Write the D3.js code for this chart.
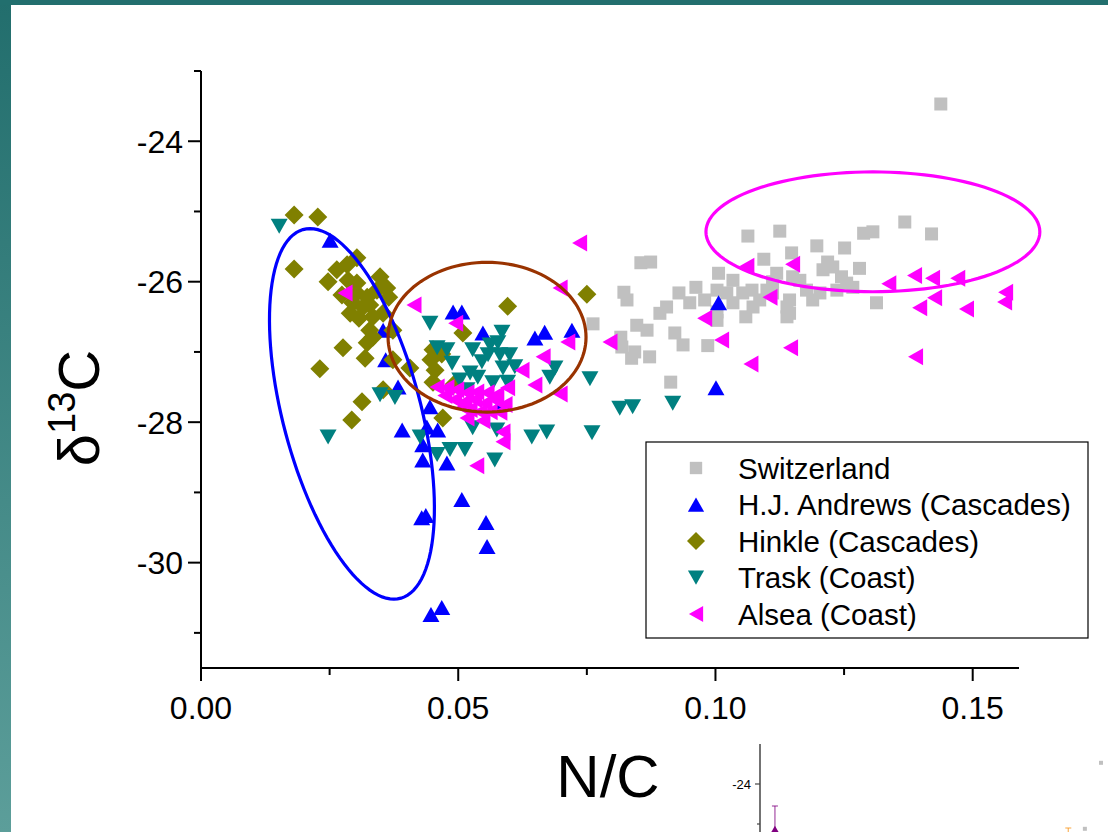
<!DOCTYPE html>
<html>
<head>
<meta charset="utf-8">
<script src="https://cdn.jsdelivr.net/npm/d3@7"></script>
<style>
  body { margin: 0; background: #fff; }
  text { font-family: "Liberation Sans", Arial, sans-serif; fill: #000; }
</style>
</head>
<body>
<svg id="chart" width="1108" height="832"></svg>
<script>
// ---- data (N/C, d13C) ----
const switzerland = [
  [0.1438,-23.47],[0.1063,-25.35],[0.1125,-25.28],[0.1197,-25.49],[0.1251,-25.52],[0.1288,-25.31],
  [0.1306,-25.29],[0.1368,-25.15],[0.1420,-25.32],[0.0855,-25.73],[0.0874,-25.72],[0.1094,-25.68],
  [0.1148,-25.59],[0.1218,-25.72],[0.1006,-25.88],[0.0822,-26.15],[0.0828,-26.26],[0.0962,-26.08],
  [0.0929,-26.16],[0.0950,-26.30],[0.0905,-26.36],[0.0892,-26.45],[0.0847,-26.62],[0.0867,-26.69],
  [0.0762,-26.60],[0.0816,-26.79],[0.0818,-26.93],[0.0843,-27.00],[0.0837,-27.09],[0.0872,-27.07],
  [0.0921,-26.73],[0.0937,-26.90],[0.0985,-26.91],[0.0913,-27.43],[0.1003,-26.12],[0.1034,-25.98],
  [0.1053,-26.16],[0.1086,-26.26],[0.1073,-26.36],[0.1100,-26.12],[0.1003,-26.55],[0.1003,-26.43],
  [0.1034,-26.30],[0.1059,-26.50],[0.1144,-26.26],[0.1144,-26.45],[0.1150,-25.93],[0.1177,-26.12],
  [0.1189,-26.26],[0.1203,-26.16],[0.1236,-26.12],[0.1245,-25.93],[0.1255,-26.02],[0.1267,-26.08],
  [0.1313,-26.30],[0.1228,-25.79],[0.1209,-25.83],[0.1119,-25.88],[0.1111,-26.00],[0.1164,-25.98],
  [0.1111,-26.16],[0.1139,-26.36],[0.1139,-26.50],[0.1071,-26.12],[0.1022,-26.16],[0.0979,-26.26],
  [0.1280,-25.81]
];
const andrews = [
  [0.0251,-25.41],[0.0354,-26.69],[0.0359,-27.11],[0.0383,-27.50],[0.0391,-28.11],[0.0490,-26.43],
  [0.0507,-26.43],[0.0548,-26.73],[0.0649,-26.80],[0.0668,-26.72],[0.0721,-26.69],[0.0439,-28.07],
  [0.0460,-28.11],[0.0431,-28.32],[0.0431,-28.54],[0.0478,-28.58],[0.0507,-29.10],[0.0429,-29.36],
  [0.0437,-29.33],[0.0554,-29.43],[0.0556,-29.77],[0.0447,-30.74],[0.0468,-30.64],[0.0581,-27.75],
  [0.1006,-26.30],[0.1001,-27.51],[0.0445,-27.78]
];
const hinkle = [
  [0.0181,-25.05],[0.0227,-25.08],[0.0181,-25.82],[0.0303,-25.66],[0.0284,-25.76],[0.0264,-25.83],
  [0.0247,-26.00],[0.0348,-25.93],[0.0361,-26.09],[0.0365,-26.22],[0.0303,-26.02],[0.0303,-26.16],
  [0.0323,-26.22],[0.0342,-26.12],[0.0295,-26.30],[0.0315,-26.36],[0.0290,-26.45],[0.0307,-26.52],
  [0.0334,-26.50],[0.0354,-26.45],[0.0373,-26.69],[0.0328,-26.69],[0.0334,-26.79],[0.0323,-26.87],
  [0.0276,-26.94],[0.0319,-27.09],[0.0231,-27.24],[0.0373,-27.11],[0.0406,-27.23],[0.0354,-27.54],
  [0.0313,-27.71],[0.0293,-27.97],[0.0470,-27.94],[0.0509,-26.73],[0.0596,-26.35],[0.0750,-26.18],
  [0.0451,-26.97],[0.0468,-27.03],[0.0447,-27.11],[0.0455,-27.26],[0.0451,-27.43],[0.0492,-27.46],
  [0.0286,-25.98],[0.0328,-26.33],[0.0274,-26.19]
];
const trask = [
  [0.0152,-25.21],[0.0247,-28.21],[0.0377,-27.65],[0.0445,-26.59],[0.0459,-26.94],[0.0478,-26.97],
  [0.0488,-27.16],[0.0528,-26.97],[0.0577,-26.87],[0.0585,-26.72],[0.0546,-27.14],[0.0581,-27.04],
  [0.0587,-27.23],[0.0610,-27.21],[0.0688,-27.23],[0.0678,-27.36],[0.0756,-27.38],[0.0523,-27.30],
  [0.0538,-27.36],[0.0567,-27.44],[0.0596,-27.43],[0.0528,-28.08],[0.0575,-28.11],[0.0643,-28.21],
  [0.0672,-28.14],[0.0760,-28.15],[0.0426,-28.21],[0.0459,-28.46],[0.0484,-28.39],[0.0513,-28.39],
  [0.0571,-28.54],[0.0814,-27.80],[0.0839,-27.78],[0.0917,-27.73],[0.0562,-26.90],[0.0558,-27.04],
  [0.0600,-27.04],[0.0517,-27.54],[0.0503,-27.40],[0.0348,-27.61]
];
const alsea = [
  [0.0736,-25.45],[0.0698,-26.09],[0.0795,-26.86],[0.0979,-26.52],[0.1012,-26.83],[0.1069,-27.17],
  [0.1106,-26.22],[0.1146,-26.94],[0.1061,-25.78],[0.1150,-25.75],[0.1337,-26.03],[0.1387,-25.91],
  [0.1422,-25.95],[0.1471,-25.95],[0.1397,-26.37],[0.1426,-26.23],[0.1488,-26.39],[0.1564,-26.15],
  [0.1562,-26.29],[0.1389,-27.07],[0.0280,-26.16],[0.0414,-26.33],[0.0495,-26.59],[0.0713,-26.86],
  [0.0665,-27.07],[0.0624,-27.26],[0.0649,-27.47],[0.0698,-27.60],[0.0596,-27.51],[0.0459,-27.50],
  [0.0478,-27.51],[0.0497,-27.54],[0.0517,-27.58],[0.0536,-27.57],[0.0556,-27.58],[0.0575,-27.61],
  [0.0493,-27.68],[0.0513,-27.71],[0.0532,-27.68],[0.0552,-27.73],[0.0571,-27.68],[0.0591,-27.75],
  [0.0523,-27.82],[0.0542,-27.85],[0.0562,-27.85],[0.0581,-27.86],[0.0517,-27.94],[0.0548,-27.98],
  [0.0587,-28.14],[0.0587,-28.28],[0.0536,-28.62],[0.0509,-27.79],[0.0474,-27.62]
];

const seriesNames = ["Switzerland", "H.J. Andrews (Cascades)", "Hinkle (Cascades)", "Trask (Coast)", "Alsea (Coast)"];
const seriesColors = ["#c0c0c0", "#0000ff", "#808000", "#008080", "#ff00ff"];
const seriesShapes = ["square", "up", "diamond", "down", "left"];
const seriesData = [switzerland, andrews, hinkle, trask, alsea];

// ellipses: center + two conjugate semi-axis vectors, all in data units
const ellipseCenters = [[0.02934, -27.882], [0.0556, -26.79], [0.1306, -25.29]];
const ellipseU = [[0.00814, -2.638], [0.01924, 0], [0.03245, 0]];
const ellipseV = [[0.01381, 0], [0, 1.066], [0, 0.853]];
const ellipseColors = ["#0000ff", "#993300", "#ff00ff"];

const xTicks = [0, 0.05, 0.10, 0.15];
const xMinor = [0.025, 0.075, 0.125];
const yTicks = [-24, -26, -28, -30];
const yMinor = [-23, -25, -27, -29, -31];

// partial inset chart peeking in at the bottom (slide overlap)
const insetGray = [[0.1438, -23.47], [0.137, -25.12]];
const insetMeans = [[0.0063, -25.22, -24.55], [0.130, -25.45, -25.1]];
const insetColors = ["#800080", "#f7941d"];

const svg = d3.select("#chart");

// slide frame
const grad = svg.append("defs").append("linearGradient")
  .attr("id", "sideGrad").attr("x1", 0).attr("y1", 0).attr("x2", 0).attr("y2", 1);
grad.append("stop").attr("offset", "0%").attr("stop-color", "#226e6d");
grad.append("stop").attr("offset", "100%").attr("stop-color", "#5c9e9a");
svg.append("rect").attr("x", 0).attr("y", 0).attr("width", 11).attr("height", 832).attr("fill", "url(#sideGrad)");
svg.append("rect").attr("x", 0).attr("y", 0).attr("width", 1108).attr("height", 5).attr("fill", "#226f6e");

// scales
const x = d3.scaleLinear().domain([0, 0.159]).range([201, 1019]);
const y = d3.scaleLinear().domain([-31.5, -23]).range([668, 71]);

// marker shapes, in pixels around the point
function shapePath(s) {
  if (s === "square") return "M-6.5,-6.5H6.5V6.5H-6.5Z";
  if (s === "up") return "M0,-7.5L8.5,7.5L-8.5,7.5Z";
  if (s === "down") return "M0,7.5L8.5,-7.5L-8.5,-7.5Z";
  if (s === "left") return "M-7.5,0L7.5,-8.5L7.5,8.5Z";
  return "M0,-9.5L9.5,0L0,9.5L-9.5,0Z";
}

// axes
const axes = svg.append("g").attr("stroke", "#000").attr("stroke-width", 2);
axes.append("line").attr("x1", x(0)).attr("x2", x(0)).attr("y1", y(-23)).attr("y2", y(-31.5) + 1);
axes.append("line").attr("x1", x(0) - 1).attr("x2", x(0.159)).attr("y1", y(-31.5)).attr("y2", y(-31.5));

axes.selectAll(".ytick").data(yTicks).enter().append("line")
  .attr("x1", x(0) - 13).attr("x2", x(0)).attr("y1", d => y(d)).attr("y2", d => y(d));
axes.selectAll(".yminor").data(yMinor).enter().append("line")
  .attr("x1", x(0) - 7).attr("x2", x(0)).attr("y1", d => y(d)).attr("y2", d => y(d));
axes.selectAll(".xtick").data(xTicks).enter().append("line")
  .attr("x1", d => x(d)).attr("x2", d => x(d)).attr("y1", y(-31.5)).attr("y2", y(-31.5) + 13);
axes.selectAll(".xminor").data(xMinor).enter().append("line")
  .attr("x1", d => x(d)).attr("x2", d => x(d)).attr("y1", y(-31.5)).attr("y2", y(-31.5) + 7);

svg.selectAll(".ylab").data(yTicks).enter().append("text")
  .attr("x", x(0) - 18).attr("y", d => y(d) + 11.5)
  .attr("text-anchor", "end").attr("font-size", 32)
  .text(d => d);
svg.selectAll(".xlab").data(xTicks).enter().append("text")
  .attr("x", d => x(d)).attr("y", y(-31.5) + 51)
  .attr("text-anchor", "middle").attr("font-size", 32)
  .text(d => d3.format(".2f")(d));

// axis titles
svg.append("text").attr("x", 608).attr("y", 797).attr("text-anchor", "middle")
  .attr("font-size", 60).text("N/C");
const yt = svg.append("text").attr("transform", "translate(99,408) rotate(-90)")
  .attr("text-anchor", "middle").attr("font-size", 58);
yt.append("tspan").text("\u03b4");
yt.append("tspan").attr("font-size", 38).attr("dy", -24).text("13");
yt.append("tspan").attr("dy", 24).text("C");

// points, series drawn in order
seriesData.forEach((data, i) => {
  svg.append("g").selectAll("path").data(data).enter().append("path")
    .attr("d", shapePath(seriesShapes[i]))
    .attr("transform", d => "translate(" + x(d[0]) + "," + y(d[1]) + ")")
    .attr("fill", seriesColors[i]);
});

// ellipses
const line = d3.line().x(d => x(d[0])).y(d => y(d[1]));
ellipseCenters.forEach((c, i) => {
  const pts = d3.range(0, 361, 3).map(a => {
    const t = a * Math.PI / 180;
    return [c[0] + ellipseU[i][0] * Math.cos(t) + ellipseV[i][0] * Math.sin(t),
            c[1] + ellipseU[i][1] * Math.cos(t) + ellipseV[i][1] * Math.sin(t)];
  });
  svg.append("path").attr("d", line(pts) + "Z")
    .attr("fill", "none").attr("stroke", ellipseColors[i]).attr("stroke-width", 3.2);
});

// legend
const lg = svg.append("g");
lg.append("rect").attr("x", 646).attr("y", 442).attr("width", 442).attr("height", 196)
  .attr("fill", "#fff").attr("stroke", "#000").attr("stroke-width", 1.2);
seriesNames.forEach((name, i) => {
  const ly = 468 + i * 36.5;
  lg.append("path").attr("d", shapePath(seriesShapes[i]))
    .attr("transform", "translate(696," + ly + ") scale(0.95)")
    .attr("fill", seriesColors[i]);
  lg.append("text").attr("x", 738).attr("y", ly + 10.5).attr("font-size", 29.5).text(name);
});

// inset fragment
const ix = d3.scaleLinear().domain([0, 0.1438]).range([760, 1101]);
const iy = d3.scaleLinear().domain([-25, -23]).range([824, 744]);
const inset = svg.append("g");
inset.append("line").attr("x1", ix(0)).attr("x2", ix(0)).attr("y1", iy(-23)).attr("y2", 832)
  .attr("stroke", "#444").attr("stroke-width", 1.5);
inset.selectAll(".it").data([-24, -25]).enter().append("line")
  .attr("x1", d => ix(0) - (d === -24 ? 5 : 3)).attr("x2", ix(0))
  .attr("y1", d => iy(d)).attr("y2", d => iy(d))
  .attr("stroke", "#444").attr("stroke-width", 1.2);
inset.append("text").attr("x", ix(0) - 9).attr("y", iy(-24) + 5)
  .attr("text-anchor", "end").attr("font-size", 13).text("-24");
insetMeans.forEach((m, i) => {
  inset.append("line").attr("x1", ix(m[0])).attr("x2", ix(m[0]))
    .attr("y1", iy(m[2])).attr("y2", iy(m[1]))
    .attr("stroke", insetColors[i]).attr("stroke-opacity", 0.7).attr("stroke-width", 1.2);
  inset.append("line").attr("x1", ix(m[0]) - 3).attr("x2", ix(m[0]) + 3)
    .attr("y1", iy(m[2])).attr("y2", iy(m[2]))
    .attr("stroke", insetColors[i]).attr("stroke-opacity", 0.7).attr("stroke-width", 1.2);
  inset.append("path").attr("d", "M0,-7L7,5L-7,5Z")
    .attr("transform", "translate(" + ix(m[0]) + "," + iy(m[1]) + ")")
    .attr("fill", insetColors[i]);
});
inset.selectAll(".ig").data(insetGray).enter().append("rect")
  .attr("x", d => ix(d[0]) - 2).attr("y", d => iy(d[1]) - 2)
  .attr("width", 4).attr("height", 4).attr("fill", "#c0c0c0");
</script>
</body>
</html>
